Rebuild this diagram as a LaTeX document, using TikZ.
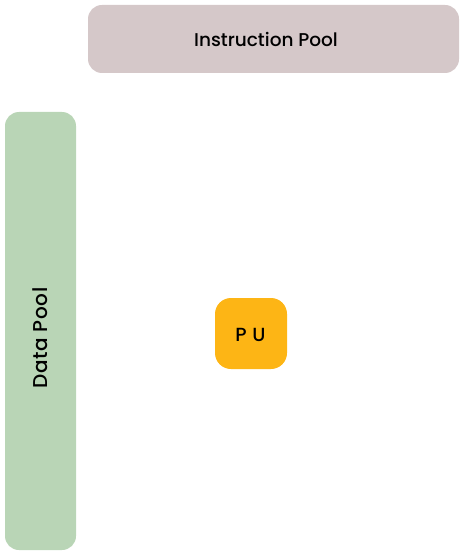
\documentclass[tikz,border=0pt]{standalone}
\usepackage{fontspec}
\setmainfont{Poppins}
\newfontfamily\medfont{Poppins Medium}
\definecolor{instr}{HTML}{D5C8C9}
\definecolor{datag}{HTML}{B9D5B6}
\definecolor{puor}{HTML}{FDB515}
\begin{document}
\begin{tikzpicture}[x=1pt,y=1pt,
  lbl/.style={inner sep=0pt, text=black},
]
\useasboundingbox (0,0) rectangle (464,-556);
\fill[instr, rounded corners=14pt] (88,-5) rectangle (459,-73);
\node[lbl, font=\medfont\fontsize{18.5}{20}\selectfont] (instr) at (266,-39) {Instruction Pool};
\fill[datag, rounded corners=14pt] (5,-112) rectangle (76,-550);
\node[lbl, rotate=90, font=\medfont\fontsize{20}{22}\selectfont\addfontfeatures{LetterSpace=3}] (data) at (40.5,-338) {Data Pool};
\fill[puor, rounded corners=16pt] (215,-298) rectangle (287,-369);
\node[lbl, font=\medfont\fontsize{19}{20}\selectfont\addfontfeatures{LetterSpace=4}] (pu) at (250.5,-335) {P U};
\end{tikzpicture}
\end{document}
